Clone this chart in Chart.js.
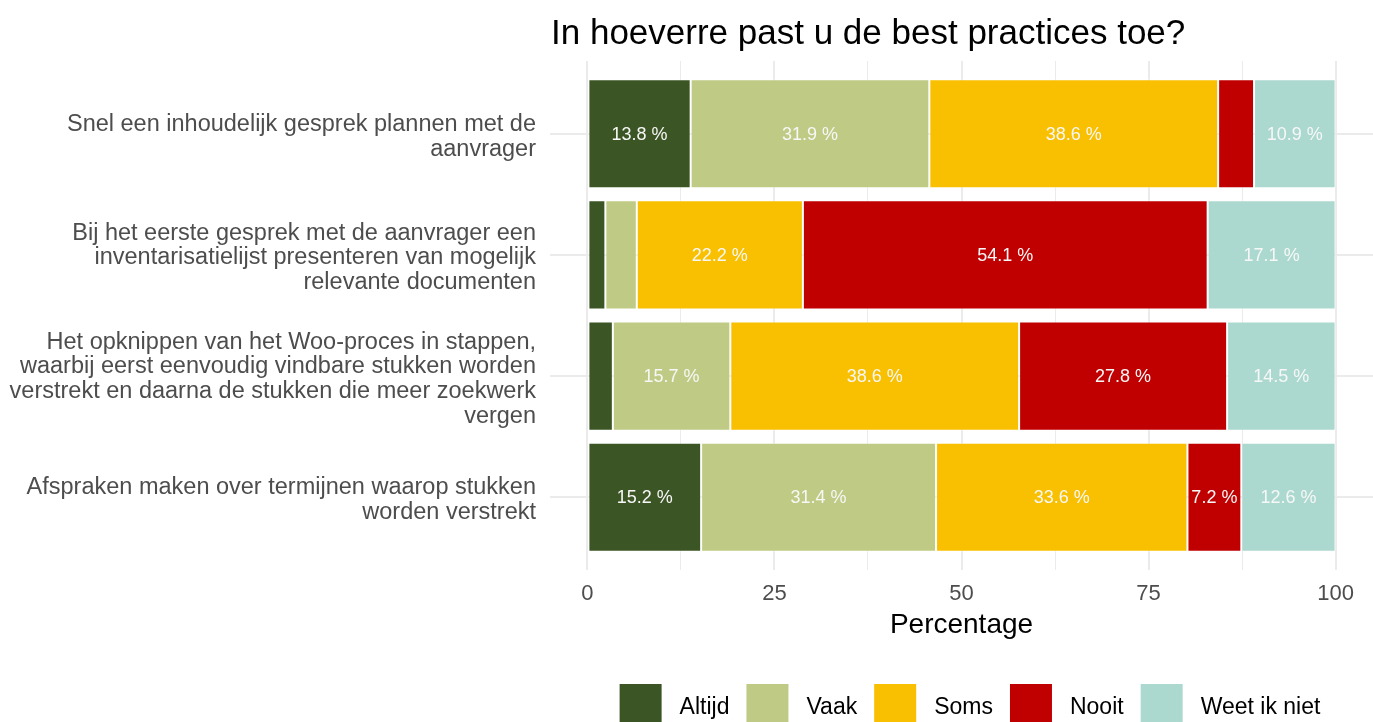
<!DOCTYPE html>
<html><head><meta charset="utf-8">
<script src="https://cdn.jsdelivr.net/npm/chart.js@4.4.1/dist/chart.umd.min.js"></script>
<style>html,body{margin:0;padding:0;background:#fff;overflow:hidden}#wrap{width:1373px;height:722px;position:relative}</style>
</head><body><div id="wrap"><canvas id="c" width="1373" height="722"></canvas></div>
<script>
const chartTitle = "In hoeverre past u de best practices toe?";
const xAxisTitle = "Percentage";
const categories = [
  ["Snel een inhoudelijk gesprek plannen met de", "aanvrager"],
  ["Bij het eerste gesprek met de aanvrager een", "inventarisatielijst presenteren van mogelijk", "relevante documenten"],
  ["Het opknippen van het Woo-proces in stappen,", "waarbij eerst eenvoudig vindbare stukken worden", "verstrekt en daarna de stukken die meer zoekwerk", "vergen"],
  ["Afspraken maken over termijnen waarop stukken", "worden verstrekt"]
];
const seriesNames = ["Altijd", "Vaak", "Soms", "Nooit", "Weet ik niet"];
const altijd     = [13.8, 2.4, 3.4, 15.2];
const vaak       = [31.9, 4.2, 15.7, 31.4];
const soms       = [38.6, 22.2, 38.6, 33.6];
const nooit      = [4.8, 54.1, 27.8, 7.2];
const weetIkNiet = [10.9, 17.1, 14.5, 12.6];
const seriesColors = ["#3B5524", "#BFCB84", "#F8C000", "#C00000", "#ACD9CF"];
const xTickValues = [0, 12.5, 25, 37.5, 50, 62.5, 75, 87.5, 100];
const xTickLabels = ["0", "", "25", "", "50", "", "75", "", "100"];

const FONT = '"Liberation Sans", Arial, Helvetica, sans-serif';
Chart.defaults.font.family = FONT;

const seriesData = [altijd, vaak, soms, nooit, weetIkNiet];
const datasets = seriesNames.map((n, i) => ({
  label: n,
  data: seriesData[i].map((v, j) => ({ x: v, y: j })),
  backgroundColor: seriesColors[i],
  borderColor: 'rgba(255,255,255,0.45)',
  borderWidth: 1,
  borderSkipped: false,
  barPercentage: 0.9,
  categoryPercentage: 1.0
}));

const titlePlugin = {
  id: 'ggTitle',
  afterDraw(chart) {
    const ctx = chart.ctx;
    ctx.save();
    ctx.font = '35px ' + FONT;
    ctx.fillStyle = '#000';
    ctx.textAlign = 'left';
    ctx.textBaseline = 'alphabetic';
    ctx.fillText(chartTitle, chart.chartArea.left + 1, 44);
    ctx.restore();
  }
};

const labelPlugin = {
  id: 'barLabels',
  afterDatasetsDraw(chart) {
    const ctx = chart.ctx;
    ctx.save();
    ctx.font = '18px ' + FONT;
    ctx.fillStyle = '#f7f7f7';
    ctx.textAlign = 'center';
    ctx.textBaseline = 'middle';
    chart.data.datasets.forEach((ds, i) => {
      const meta = chart.getDatasetMeta(i);
      meta.data.forEach((bar, j) => {
        const v = ds.data[j].x;
        if (v >= 5) {
          ctx.fillText(v.toFixed(1) + ' %', (bar.x + bar.base) / 2, bar.y + 1);
        }
      });
    });
    ctx.restore();
  }
};

const legendPlugin = {
  id: 'ggLegend',
  afterDraw(chart) {
    const ctx = chart.ctx;
    ctx.save();
    ctx.font = '23px ' + FONT;
    const keyW = 42, keyH = 42, keyGap = 18, itemGap = 17, top = 684;
    const items = chart.data.datasets.map(ds => ({ label: ds.label, color: ds.backgroundColor, w: ctx.measureText(ds.label).width }));
    let total = 0;
    items.forEach((it, i) => { total += keyW + keyGap + it.w + (i < items.length - 1 ? itemGap : 0); });
    let x = 970 - total / 2;
    items.forEach(it => {
      ctx.fillStyle = it.color;
      ctx.fillRect(x, top, keyW, keyH);
      ctx.fillStyle = '#000';
      ctx.textAlign = 'left';
      ctx.textBaseline = 'alphabetic';
      ctx.fillText(it.label, x + keyW + keyGap, 714);
      x += keyW + keyGap + it.w + itemGap;
    });
    ctx.restore();
  }
};

new Chart(document.getElementById('c'), {
  type: 'bar',
  data: { datasets },
  plugins: [titlePlugin, labelPlugin, legendPlugin],
  options: {
    indexAxis: 'y',
    responsive: false,
    animation: false,
    devicePixelRatio: 1,
    layout: { padding: { top: 61, left: 0, right: 0, bottom: 0 } },
    plugins: { legend: { display: false }, title: { display: false }, tooltip: { enabled: false } },
    scales: {
      x: {
        type: 'linear', stacked: true, min: -5, max: 105, offset: false,
        afterBuildTicks: s => { s.ticks = xTickValues.map(v => ({ value: v })); },
        afterFit: s => { s.height = 152; },
        grid: { offset: false, color: '#ebebeb', lineWidth: c => (c.tick && c.tick.value % 25 === 0) ? 2 : 1, drawTicks: false },
        border: { display: false },
        ticks: {
          padding: 11, color: '#4d4d4d', font: { size: 22 }, autoSkip: false, maxRotation: 0,
          callback: (v, i) => xTickLabels[i]
        },
        title: { display: true, text: xAxisTitle, color: '#000', font: { size: 28 }, padding: { top: 0, bottom: 80 } }
      },
      y: {
        type: 'linear', stacked: true, reverse: true, offset: false,
        min: -0.6, max: categories.length - 1 + 0.6,
        afterBuildTicks: s => { s.ticks = categories.map((c, i) => ({ value: i })); },
        afterFit: s => { s.width = 550; },
        grid: { offset: false, color: '#ebebeb', lineWidth: 2, drawTicks: false },
        border: { display: false },
        ticks: {
          padding: 14, labelOffset: 3, color: '#4d4d4d', font: { size: 23.5, lineHeight: 1.05 }, autoSkip: false,
          callback: (v) => categories[Math.round(v)]
        }
      }
    }
  }
});
</script>
</body></html>
